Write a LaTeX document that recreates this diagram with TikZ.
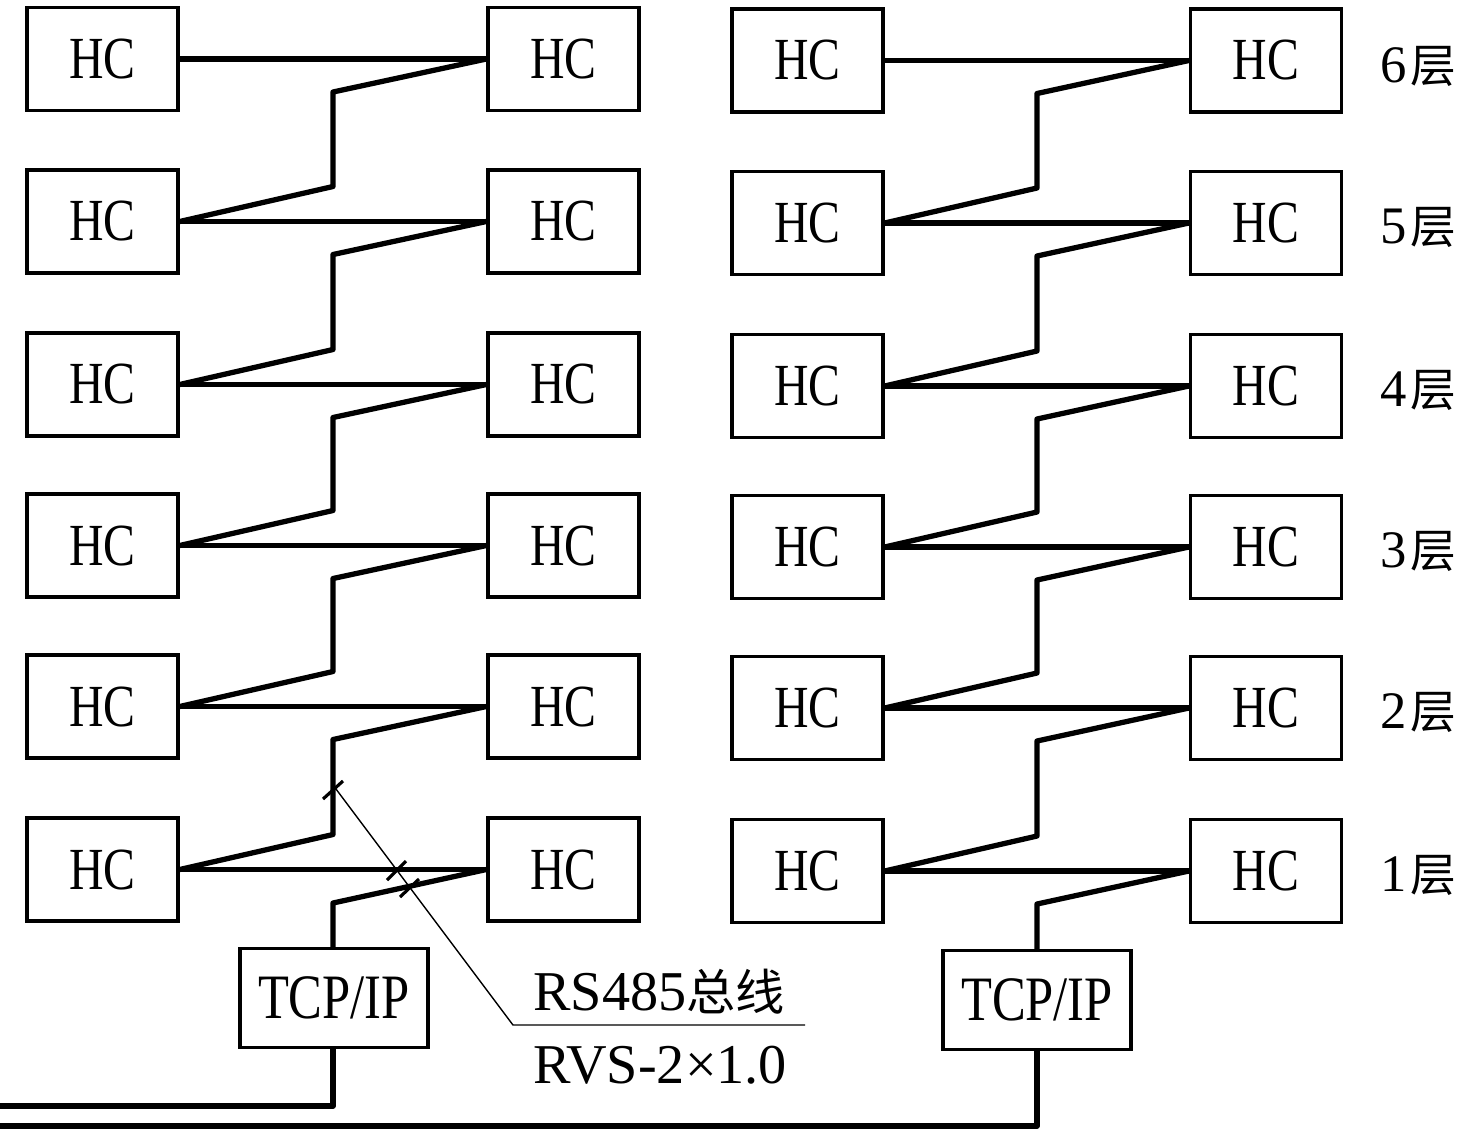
\documentclass[tikz,border=0pt]{standalone}
\usepackage{fontspec}
\setmainfont{Liberation Serif}
\newfontfamily\hcfont[FakeStretch=0.8]{Liberation Serif}
\newfontfamily\cjk{Noto Sans CJK SC}
\usetikzlibrary{calc}
\begin{document}
\begin{tikzpicture}[x=0.02cm,y=-0.02cm,
  hcbox/.style={draw, line width=1.9pt, minimum width=3.02cm, minimum height=2.06cm, inner sep=0pt,
    font=\hcfont\fontsize{34}{34}\selectfont},
  tcpbox/.style={draw, line width=1.9pt, minimum width=3.76cm, minimum height=1.98cm, inner sep=0pt,
    font=\hcfont\fontsize{36}{36}\selectfont},
  bus/.style={line width=3pt, line join=round},
  leader/.style={line width=0.8pt},
  tickmark/.style={line width=1.8pt},
  floorlbl/.style={font=\fontsize{30}{30}\selectfont, inner sep=0pt},
  note/.style={font=\fontsize{32}{32}\selectfont, inner sep=0pt}]
\useasboundingbox (0,0) rectangle (1477,1134);

\foreach \g/\xl/\xr/\xv/\dy in {A/102.5/563.5/333/0, B/807.5/1266/1037/1.5} {
  \foreach \i/\y in {1/59,2/221.5,3/384.5,4/545.5,5/706.5,6/869.5} {
    \node[hcbox] (\g-L\i) at (\xl,\y+\dy) {HC};
    \node[hcbox] (\g-R\i) at (\xr,\y+\dy) {HC};
    \draw[bus] (\g-L\i.east) -- (\g-R\i.west);
  }
  \foreach \i/\j/\yj/\yi in {2/1/59/221.5,3/2/221.5/384.5,4/3/384.5/545.5,5/4/545.5/706.5,6/5/706.5/869.5} {
    \draw[bus] (\g-R\j.west) -- (\xv,\yj+\dy+33) -- (\xv,\yi+\dy-35) -- (\g-L\i.east);
  }
}

% TCP/IP boxes
\node[tcpbox] (T1) at (334,998) {TCP/IP};
\node[tcpbox] (T2) at (1037,1000) {TCP/IP};
\draw[bus] (A-R6.west) -- (333,903) -- (T1.north -| 333,0);
\draw[bus] (B-R6.west) -- (1037,904) -- (T2.north);

% backbone lines
\coordinate (E1) at (0,1106);
\coordinate (E2) at (0,1126);
\draw[bus] (T1.south -| 333,0) -- (333,1106) -- (E1);
\draw[bus] (T2.south) -- (1037,1126) -- (E2);

% floor labels
\foreach \i/\y in {6/66,5/227,4/390,3/551,2/712,1/875} {
  \node[floorlbl] (F\i) at (1418,\y) {\i\kern2pt{\cjk\fontsize{26}{26}\selectfont 层}};
}

% RS485 leader
\coordinate (P0) at (333,785);
\coordinate (P1) at (513,1025);
\coordinate (P2) at (805,1025);
\draw[leader] (P0) -- (P1) -- (P2);
\draw[tickmark] (323,799) -- (343,781);
\draw[tickmark] (387,880) -- (406,861);
\draw[tickmark] (400,897) -- (419,879);

\node[note, anchor=base west] (N1) at (533,1010) {RS485{\cjk\fontsize{28}{28}\selectfont 总线}};
\node[note, anchor=base west] (N2) at (533,1083) {RVS-2×1.0};
\end{tikzpicture}
\end{document}
